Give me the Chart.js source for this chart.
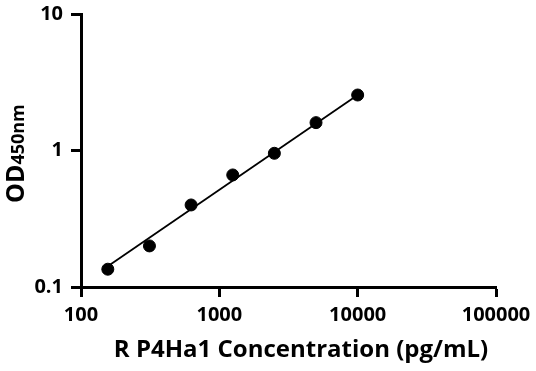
<!DOCTYPE html>
<html>
<head>
<meta charset="utf-8">
<script src="https://cdn.jsdelivr.net/npm/chart.js@4/dist/chart.umd.min.js"></script>
<style>
  html, body { margin: 0; padding: 0; background: #fff; }
  #wrap { width: 536px; height: 371px; position: relative; }
</style>
</head>
<body>
<div id="wrap"><canvas id="chart"></canvas></div>
<script>
// 目盛り
const X_TICKS = [100, 1000, 10000, 100000];
const Y_TICKS = [0.1, 1, 10];

// 標準曲線の測定点（pg/mL, OD450）
const CONC = [156.25, 312.5, 625, 1250, 2500, 5000, 10000];
const OD = [0.135, 0.200, 0.399, 0.662, 0.954, 1.60, 2.55];

// 近似直線の両端
const FIT_X = [156.25, 10000];
const FIT_Y = [0.142, 2.55];

const X_TITLE = 'R P4Ha1 Concentration (pg/mL)';
const Y_TITLE_MAIN = 'OD';
const Y_TITLE_SUB = '450nm';

const FONT = '"Open Sans", "DejaVu Sans", sans-serif';

// 軸タイトルを手動描画（下付き文字のため）
const titlePlugin = {
  id: 'axisTitles',
  afterDraw(chart) {
    const ctx = chart.ctx;
    ctx.save();
    ctx.fillStyle = '#000';
    ctx.font = `bold 24px ${FONT}`;
    ctx.textAlign = 'center';
    ctx.textBaseline = 'middle';
    ctx.fillText(X_TITLE, 301, 350);

    ctx.translate(24, 203);
    ctx.rotate(-Math.PI / 2);
    ctx.textAlign = 'left';
    ctx.textBaseline = 'alphabetic';
    ctx.font = `bold 25px ${FONT}`;
    ctx.fillText(Y_TITLE_MAIN, 0, 0);
    const w = ctx.measureText(Y_TITLE_MAIN).width;
    ctx.font = `bold 18px ${FONT}`;
    ctx.fillText(Y_TITLE_SUB, w, 0);
    ctx.restore();
  },
};

const axisStyle = {
  grid: {
    display: true,
    drawOnChartArea: false,
    drawTicks: true,
    tickLength: 10,
    tickColor: '#000',
    tickWidth: 3,
  },
  border: { display: true, color: '#000', width: 3 },
};

new Chart(document.getElementById('chart'), {
  type: 'scatter',
  data: {
    datasets: [
      {
        label: 'points',
        data: CONC.map((x, i) => ({ x, y: OD[i] })),
        backgroundColor: '#000',
        borderColor: '#000',
        pointRadius: 6,
        pointHoverRadius: 6,
        showLine: false,
        order: 0,
      },
      {
        label: 'fit',
        data: FIT_X.map((x, i) => ({ x, y: FIT_Y[i] })),
        borderColor: '#000',
        borderWidth: 1.8,
        pointRadius: 0,
        showLine: true,
        order: 1,
      },
    ],
  },
  options: {
    responsive: true,
    maintainAspectRatio: false,
    animation: false,
    events: [],
    layout: { padding: { left: 0, right: 40, top: 14, bottom: 0 } },
    plugins: {
      legend: { display: false },
      tooltip: { enabled: false },
    },
    scales: {
      x: {
        type: 'logarithmic',
        min: 100,
        max: 100000,
        ...axisStyle,
        afterBuildTicks: (s) => { s.ticks = X_TICKS.map(v => ({ value: v })); },
        afterFit: (s) => { s.height = 84; s.paddingLeft = 0; s.paddingRight = 0; },
        ticks: {
          color: '#000',
          font: { family: FONT, size: 20, weight: 'bold', lineHeight: 1 },
          padding: 8,
          maxRotation: 0,
          autoSkip: false,
          callback: (v) => String(v),
        },
      },
      y: {
        type: 'logarithmic',
        min: 0.1,
        max: 10,
        ...axisStyle,
        afterBuildTicks: (s) => { s.ticks = Y_TICKS.map(v => ({ value: v })); },
        afterFit: (s) => { s.width = 81; s.paddingTop = 0; s.paddingBottom = 0; },
        ticks: {
          color: '#000',
          font: { family: FONT, size: 20, weight: 'bold', lineHeight: 1 },
          padding: 8,
          autoSkip: false,
          callback: (v) => String(v),
        },
      },
    },
  },
  plugins: [titlePlugin],
});
</script>
</body>
</html>
